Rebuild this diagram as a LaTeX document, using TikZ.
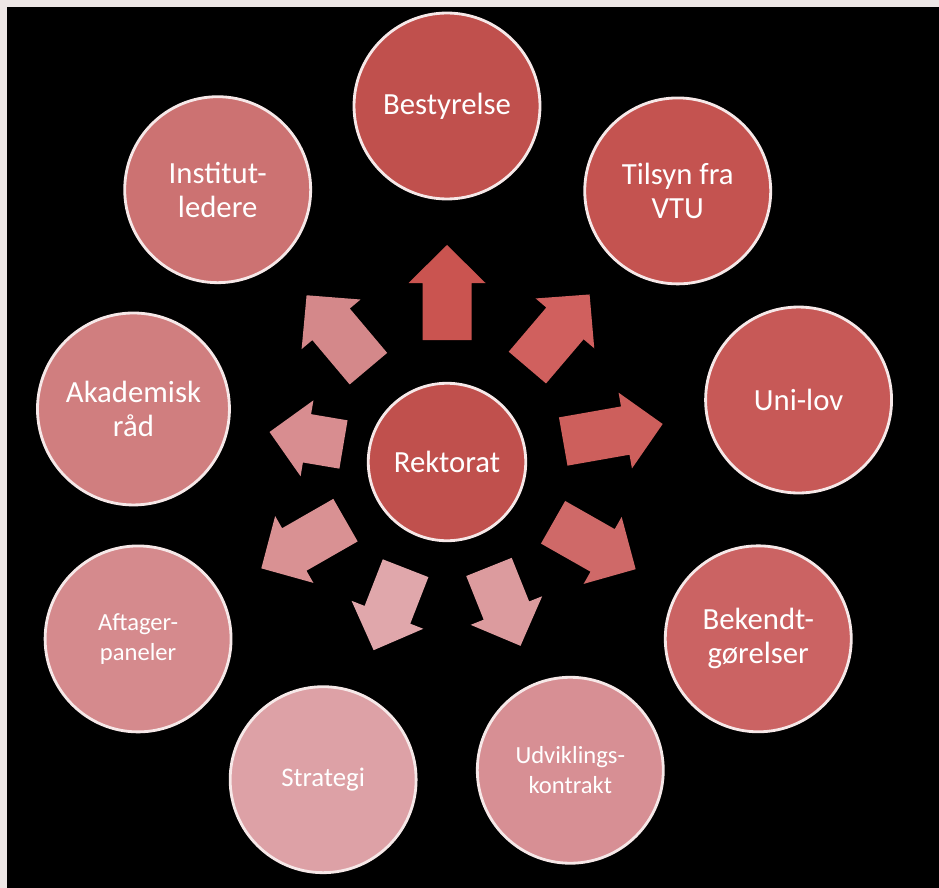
\documentclass[tikz,border=0pt]{standalone}
\usepackage{fontspec}
\setmainfont{Carlito}
\usetikzlibrary{calc}

\definecolor{frame}{RGB}{238,231,230}
\definecolor{ringline}{RGB}{246,232,232}
% circle fills
\definecolor{cRek}{RGB}{192,80,77}
\definecolor{cBest}{RGB}{192,80,77}
\definecolor{cTil}{RGB}{196,83,80}
\definecolor{cUni}{RGB}{199,89,87}
\definecolor{cBek}{RGB}{203,99,99}
\definecolor{cUdv}{RGB}{215,143,148}
\definecolor{cStr}{RGB}{221,161,166}
\definecolor{cAft}{RGB}{213,138,141}
\definecolor{cAka}{RGB}{208,126,127}
\definecolor{cIns}{RGB}{204,114,114}
% arrow fills
\definecolor{aBest}{RGB}{202,84,80}
\definecolor{aTil}{RGB}{208,96,94}
\definecolor{aUni}{RGB}{205,95,92}
\definecolor{aBek}{RGB}{207,105,104}
\definecolor{aUdv}{RGB}{220,155,158}
\definecolor{aStr}{RGB}{224,167,171}
\definecolor{aAft}{RGB}{217,145,147}
\definecolor{aAka}{RGB}{216,141,144}
\definecolor{aIns}{RGB}{212,136,138}

\tikzset{
  hub/.style={circle, draw=ringline, line width=1.6pt, fill=cRek, text=white,
    minimum size=3.15cm, inner sep=0pt, align=center,
    font=\fontsize{17.5}{19.5}\selectfont},
  sat/.style={hub, minimum size=3.72cm},
  satbig/.style={sat, minimum size=3.84cm},
  satmid/.style={sat, font=\fontsize{15.3}{18}\selectfont},
  satsmall/.style={sat, font=\fontsize{14}{17}\selectfont},
}

% block arrow from the hub towards a satellite: target, tail, tip, colour
\newcommand\spoke[4]{%
  \fill[#4] let \p1=($(#1)-(rektorat)$), \n1={atan2(\y1,\x1)} in
    ($(rektorat)+(\n1:#2)+(\n1+90:24.5)$)
    -- ($(rektorat)+(\n1:#3-38)+(\n1+90:24.5)$)
    -- ($(rektorat)+(\n1:#3-38)+(\n1+90:38.5)$)
    -- ($(rektorat)+(\n1:#3)$)
    -- ($(rektorat)+(\n1:#3-38)+(\n1-90:38.5)$)
    -- ($(rektorat)+(\n1:#3-38)+(\n1-90:24.5)$)
    -- ($(rektorat)+(\n1:#2)+(\n1-90:24.5)$)
    -- cycle;
}

\begin{document}
\begin{tikzpicture}[x=0.02cm,y=0.02cm]
  \useasboundingbox (0,0) rectangle (939,887);
  \fill[frame] (-10,-10) rectangle (950,900);
  \fill[black] (7,-10) rectangle (950,880);

  \node[hub] (rektorat) at (447,425) {Rektorat};

  \foreach \nm/\a/\d/\s/\c/\t in {bestyrelse/90/356/sat/cBest/Bestyrelse,
    tilsyn/49.6/356/sat/cTil/Tilsyn fra\\VTU,
    unilov/10/357/sat/cUni/Uni-lov,
    bekendt/-29.6/358/sat/cBek/Bekendt-\\gørelser,
    udvikling/-68.2/332/satsmall/cUdv/Udviklings-\\kontrakt,
    strategi/-111.3/341/satmid/cStr/Strategi,
    aftager/-150.2/356/satsmall/cAft/Aftager-\\paneler,
    akademisk/170.4/318/satbig/cAka/Akademisk\\råd,
    institut/130.1/356/sat/cIns/Institut-\\ledere}{
    \node[\s, fill=\c] (\nm) at ($(rektorat)+(\a:\d)$) {\t};
  }

  \foreach \nm/\tl/\tp/\cl in {bestyrelse/122/217/aBest, tilsyn/124/220/aTil,
    unilov/118/219/aUni, bekendt/122/217/aBek, udvikling/113/198/aUdv,
    strategi/114/202/aStr, aftager/117/214/aAft, akademisk/105/180/aAka,
    institut/122/218/aIns}
    \spoke{\nm}{\tl}{\tp}{\cl};
\end{tikzpicture}
\end{document}
